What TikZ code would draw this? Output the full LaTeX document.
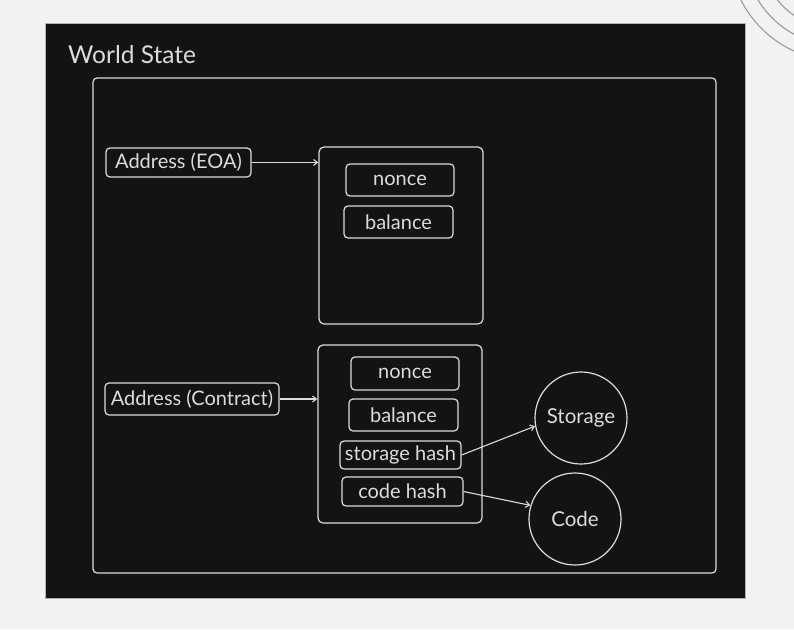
\documentclass[tikz,border=0pt]{standalone}
\usepackage{fontspec}
\setmainfont{Lato}
\usepackage{tikz}
\usetikzlibrary{arrows.meta}
\usepackage{xcolor}
\definecolor{PageGray}{HTML}{F1F2F4}
\definecolor{BoardBlack}{HTML}{131313}
\definecolor{ChalkWhite}{HTML}{DCDCDC}
\definecolor{ArcGray}{HTML}{9A9A9A}

\tikzset{
    field/.style={draw=ChalkWhite, line width=1.2pt, rounded corners=4pt, inner sep=0pt, font=\fontsize{20}{24}\selectfont, text=ChalkWhite},
    account/.style={draw=ChalkWhite, line width=1.2pt, rounded corners=5pt, inner sep=0pt},
    trie/.style={draw=ChalkWhite, line width=1.2pt, circle, inner sep=0pt, font=\fontsize{20.5}{24}\selectfont, text=ChalkWhite},
    link/.style={->, >={Straight Barb[length=4pt, width=6pt]}, line width=1.1pt, ChalkWhite}
}

\begin{document}
\begin{tikzpicture}[x=1pt, y=-1pt]
                \useasboundingbox (0, 0) rectangle (794, 629);
                \fill[PageGray] (0, 0) rectangle (794, 629);
                \begin{scope}
                    \clip (0, 0) rectangle (794, 629);
                    \draw[ArcGray, line width=1.1pt] (840, -50) circle[radius=111];
                    \draw[ArcGray, line width=1.1pt] (840, -50) circle[radius=96];
                    \draw[ArcGray, line width=1.1pt] (840, -50) circle[radius=80];
                \end{scope}
                \draw[fill=BoardBlack, draw=gray!60, line width=0.8pt] (45, 23) rectangle (745, 598);
                \node[anchor=base west, inner sep=0pt, font=\fontsize{24.5}{29}\selectfont, text=ChalkWhite] (title) at (68, 63) {World State};
                \draw[ChalkWhite, line width=1.2pt, rounded corners=4pt] (93, 78) rectangle (716, 573);
                
                % Externally owned account
                \node[field, minimum width=145, minimum height=29] (eoa) at (178.5, 162.5) {Address (EOA)};
                \node[account, minimum width=164, minimum height=177] (eoaacc) at (401, 235.5) {};
                \node[field, minimum width=108, minimum height=32] (eoanonce) at (400, 180) {nonce};
                \node[field, minimum width=109, minimum height=32] (eoabal) at (398.5, 222) {balance};
                
                % Contract account
                \node[field, minimum width=174, minimum height=32] (con) at (192, 399) {Address (Contract)};
                \node[account, minimum width=164, minimum height=178] (conacc) at (400, 434) {};
                \node[field, minimum width=108, minimum height=33] (connonce) at (405, 373.5) {nonce};
                \node[field, minimum width=109, minimum height=32] (conbal) at (403.5, 415) {balance};
                \node[field, minimum width=121, minimum height=28] (sthash) at (400.5, 455) {storage hash};
                \node[field, minimum width=121, minimum height=29] (cdhash) at (402.5, 491.5) {code hash};
                
                % Storage and code
                \node[trie, minimum size=92] (storage) at (581, 418) {Storage};
                \node[trie, minimum size=92] (code) at (575, 519) {Code};
                
                \draw[link] (eoa) -- (eoaacc.west |- eoa);
                \draw[link] (con) -- (conacc.west |- con);
                \draw[link] (sthash.east) -- (storage.190);
                \draw[link] (cdhash.east) -- (code.163);
            \end{tikzpicture}
\end{document}
